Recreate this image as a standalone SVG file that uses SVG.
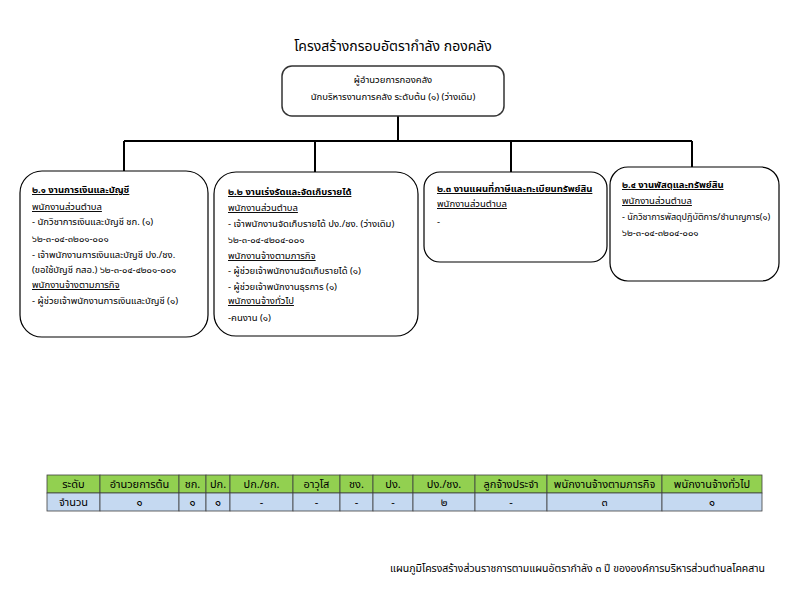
<svg xmlns="http://www.w3.org/2000/svg" width="792" height="612" viewBox="0 0 792 612">
<style>
text{font-family:"Noto Sans","Noto Sans Thai","DejaVu Sans",sans-serif;fill:#000}
.t{font-size:9.5px}
.h{font-size:9.5px;text-decoration:underline}
.b{font-weight:bold}
.box{fill:#fff;stroke:#000;stroke-width:1.2}
.conn{stroke:#000;stroke-width:2;fill:none}
.th{fill:#92D050;stroke:#404040;stroke-width:0.8}
.td{fill:#C5D9F1;stroke:#404040;stroke-width:0.8}
.c{font-size:11px;text-anchor:middle}
</style>
<rect width="792" height="612" fill="#fff"/>
<text x="393" y="51" style="font-size:14px" text-anchor="middle">โครงสร้างกรอบอัตรากำลัง กองคลัง</text>
<g id="connectors">
<path class="conn" d="M398 116V141M124 141H692M124 141V171M315 141V172M511 141V172M692 141V167"/>
</g>
<g id="top">
<rect class="box" x="282" y="66" width="222" height="50" rx="10" style="stroke:#333;stroke-width:1.5"/>
<text class="t" x="393" y="83" text-anchor="middle">ผู้อำนวยการกองคลัง</text>
<text class="t" x="393" y="100" text-anchor="middle">นักบริหารงานการคลัง ระดับต้น (๑) (ว่างเดิม)</text>
</g>
<g id="n1">
<rect class="box" x="20" y="171" width="188" height="166" rx="22"/>
<text class="h b" x="32" y="193">๒.๑ งานการเงินและบัญชี</text>
<text class="h" x="32" y="210">พนักงานส่วนตำบล</text>
<text class="t" x="32" y="225">- นักวิชาการเงินและบัญชี ชก. (๑)</text>
<text class="t" x="32" y="242">๖๒-๓-๐๔-๓๒๐๑-๐๐๑</text>
<text class="t" x="32" y="258">- เจ้าพนักงานการเงินและบัญชี ปง./ชง.</text>
<text class="t" x="32" y="273"> (ขอใช้บัญชี กสอ.) ๖๒-๓-๐๔-๔๒๐๑-๐๐๑</text>
<text class="h" x="32" y="288">พนักงานจ้างตามภารกิจ</text>
<text class="t" x="32" y="304">- ผู้ช่วยเจ้าพนักงานการเงินและบัญชี (๑)</text>
</g>
<g id="n2">
<rect class="box" x="214" y="172" width="204" height="164" rx="22"/>
<text class="h b" x="228" y="195">๒.๒ งานเร่งรัดและจัดเก็บรายได้</text>
<text class="h" x="228" y="211">พนักงานส่วนตำบล</text>
<text class="t" x="228" y="227">- เจ้าพนักงานจัดเก็บรายได้ ปง./ชง. (ว่างเดิม)</text>
<text class="t" x="228" y="243">๖๒-๓-๐๔-๔๒๐๔-๐๐๑</text>
<text class="h" x="228" y="259">พนักงานจ้างตามภารกิจ</text>
<text class="t" x="228" y="274">- ผู้ช่วยเจ้าพนักงานจัดเก็บรายได้ (๑)</text>
<text class="t" x="228" y="290">- ผู้ช่วยเจ้าพนักงานธุรการ (๑)</text>
<text class="h" x="228" y="304">พนักงานจ้างทั่วไป</text>
<text class="t" x="228" y="321">-คนงาน (๑)</text>
</g>
<g id="n3">
<rect class="box" x="424" y="172" width="183" height="90" rx="16"/>
<text class="h b" x="437" y="192">๒.๓ งานแผนที่ภาษีและทะเบียนทรัพย์สิน</text>
<text class="h" x="437" y="207">พนักงานส่วนตำบล</text>
<text class="t" x="437" y="225">-</text>
</g>
<g id="n4">
<rect class="box" x="610" y="167" width="169" height="114" rx="18"/>
<text class="h b" x="622" y="188">๒.๔ งานพัสดุและทรัพย์สิน</text>
<text class="h" x="622" y="204">พนักงานส่วนตำบล</text>
<text class="t" x="622" y="220" style="font-size:9px">- นักวิชาการพัสดุปฏิบัติการ/ชำนาญการ(๑)</text>
<text class="t" x="622" y="236">๖๒-๓-๐๔-๓๒๐๔-๐๐๑</text>
</g>
<g id="table">
<rect class="th" x="47" y="475" width="53" height="18"/>
<rect class="th" x="100" y="475" width="79" height="18"/>
<rect class="th" x="179" y="475" width="27" height="18"/>
<rect class="th" x="206" y="475" width="24" height="18"/>
<rect class="th" x="230" y="475" width="63" height="18"/>
<rect class="th" x="293" y="475" width="47" height="18"/>
<rect class="th" x="340" y="475" width="33" height="18"/>
<rect class="th" x="373" y="475" width="40" height="18"/>
<rect class="th" x="413" y="475" width="62" height="18"/>
<rect class="th" x="475" y="475" width="72" height="18"/>
<rect class="th" x="547" y="475" width="115" height="18"/>
<rect class="th" x="662" y="475" width="100" height="18"/>
<rect class="td" x="47" y="493" width="53" height="18"/>
<rect class="td" x="100" y="493" width="79" height="18"/>
<rect class="td" x="179" y="493" width="27" height="18"/>
<rect class="td" x="206" y="493" width="24" height="18"/>
<rect class="td" x="230" y="493" width="63" height="18"/>
<rect class="td" x="293" y="493" width="47" height="18"/>
<rect class="td" x="340" y="493" width="33" height="18"/>
<rect class="td" x="373" y="493" width="40" height="18"/>
<rect class="td" x="413" y="493" width="62" height="18"/>
<rect class="td" x="475" y="493" width="72" height="18"/>
<rect class="td" x="547" y="493" width="115" height="18"/>
<rect class="td" x="662" y="493" width="100" height="18"/>
<text class="c" x="73.5" y="488">ระดับ</text>
<text class="c" x="139.5" y="488">อำนวยการต้น</text>
<text class="c" x="192.5" y="488">ชก.</text>
<text class="c" x="218" y="488">ปก.</text>
<text class="c" x="261.5" y="488">ปก./ชก.</text>
<text class="c" x="316.5" y="488">อาวุโส</text>
<text class="c" x="356.5" y="488">ชง.</text>
<text class="c" x="393" y="488">ปง.</text>
<text class="c" x="444" y="488">ปง./ชง.</text>
<text class="c" x="511" y="488">ลูกจ้างประจำ</text>
<text class="c" x="604.5" y="488">พนักงานจ้างตามภารกิจ</text>
<text class="c" x="712" y="488">พนักงานจ้างทั่วไป</text>
<text class="c" x="73.5" y="506">จำนวน</text>
<text class="c" x="139.5" y="506">๑</text>
<text class="c" x="192.5" y="506">๑</text>
<text class="c" x="218" y="506">๑</text>
<text class="c" x="261.5" y="506">-</text>
<text class="c" x="316.5" y="506">-</text>
<text class="c" x="356.5" y="506">-</text>
<text class="c" x="393" y="506">-</text>
<text class="c" x="444" y="506">๒</text>
<text class="c" x="511" y="506">-</text>
<text class="c" x="604.5" y="506">๓</text>
<text class="c" x="712" y="506">๑</text>
</g>
<text x="765" y="572" style="font-size:10.5px" text-anchor="end">แผนภูมิโครงสร้างส่วนราชการตามแผนอัตรากำลัง ๓ ปี ขององค์การบริหารส่วนตำบลโคคสาน</text>
</svg>
